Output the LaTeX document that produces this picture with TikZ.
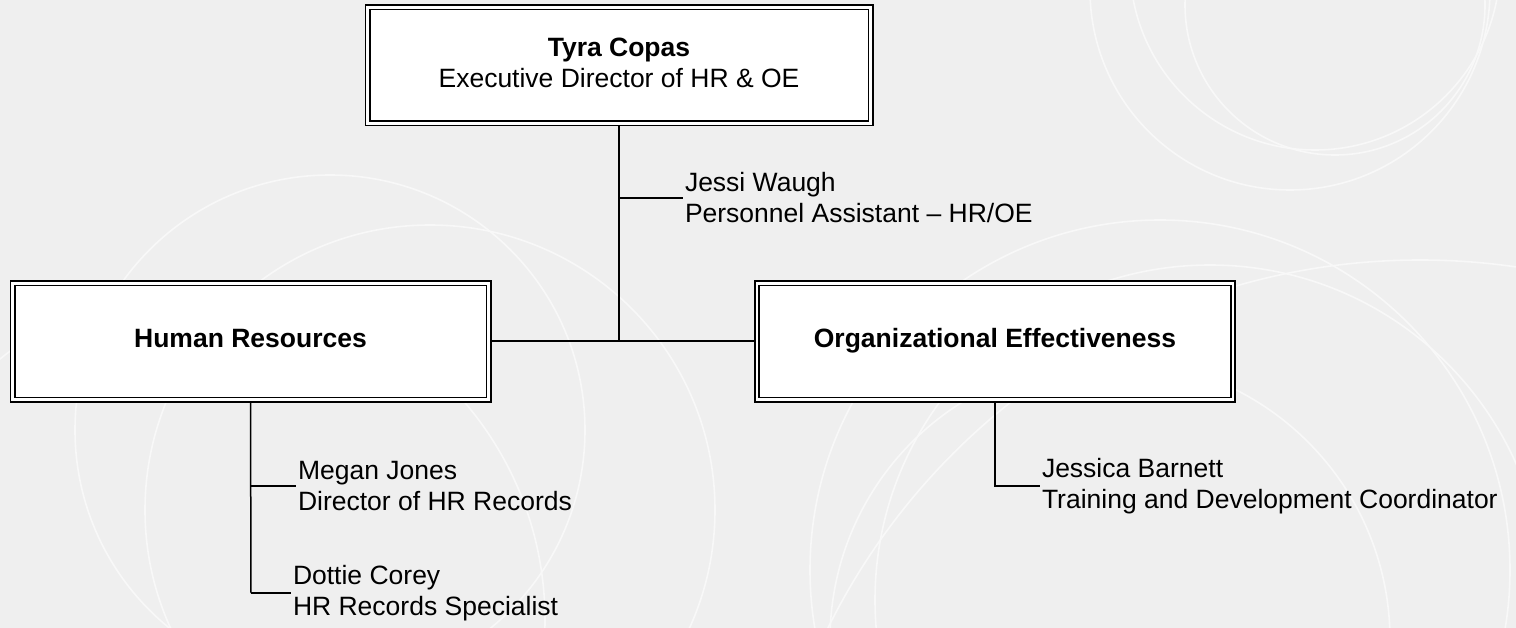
\documentclass[tikz,border=0pt]{standalone}
\usepackage{fontspec}
\setmainfont{Liberation Sans}
\definecolor{bggray}{HTML}{EFEFEF}
\definecolor{arcgray}{HTML}{F8F8F8}
\begin{document}
\begin{tikzpicture}[x=1pt,y=-1pt,
  orgbox/.style={draw=black, double=white, double distance=2.8pt, line width=1.6pt,
    fill=white, minimum width=476pt, minimum height=116pt, inner sep=0pt, outer sep=2.6pt,
    align=center, font=\fontsize{26.5}{31}\selectfont},
  persontext/.style={anchor=west, align=left, inner sep=2pt, outer sep=0pt,
    font=\fontsize{26.5}{31}\selectfont},
  conn/.style={draw=black, line width=1.5pt},
  bgarc/.style={draw=arcgray, line width=1.6pt}]
\useasboundingbox (0,0) rectangle (1516,628);
\fill[bggray] (0,0) rectangle (1516,628);
\begin{scope}
\clip (0,0) rectangle (1516,628);
\draw[bgarc] (1290,-10) circle (200);
\draw[bgarc] (1315,-35) circle (185);
\draw[bgarc] (1335,5) circle (150);
\draw[bgarc] (330,430) circle (255);
\draw[bgarc] (430,510) circle (285);
\draw[bgarc] (210,620) circle (335);
\draw[bgarc] (1160,570) circle (350);
\draw[bgarc] (1210,600) circle (335);
\draw[bgarc] (1110,640) circle (280);
\draw[bgarc] (1420,920) circle (660);
\end{scope}

\node[orgbox, minimum width=503pt] (top) at (619,65.5) {\textbf{Tyra Copas}\strut\\Executive Director of HR \& OE\strut};
\node[orgbox] (hr) at (250.5,341.5) {\textbf{Human Resources}\strut};
\node[orgbox] (oe) at (995,341.5) {\textbf{Organizational Effectiveness}\strut};

\coordinate (jbr) at (619,198);
\coordinate (mid) at (619,341);
\coordinate (mbr) at (251,486);
\coordinate (dbr) at (251,593);
\coordinate (bbr) at (995,486);

\node[persontext] (jessi) at (683,198) {Jessi Waugh\\Personnel Assistant -- HR/OE};
\node[persontext] (megan) at (296,486) {Megan Jones\\Director of HR Records};
\node[persontext] (dottie) at (291,593) {Dottie Corey\\HR Records Specialist};
\node[persontext] (jessica) at (1040,486) {Jessica Barnett\\Training and Development Coordinator};

\draw[conn] (top.south) -- (mid);
\draw[conn] (jbr) -- (jessi.west);
\draw[conn] (hr.east |- mid) -- (oe.west |- mid);
\draw[conn] (hr.south) -- (dbr);
\draw[conn] (mbr) -- (megan.west);
\draw[conn] (dbr) -- (dottie.west);
\draw[conn] (oe.south) -- (bbr) -- (jessica.west);
\end{tikzpicture}
\end{document}
